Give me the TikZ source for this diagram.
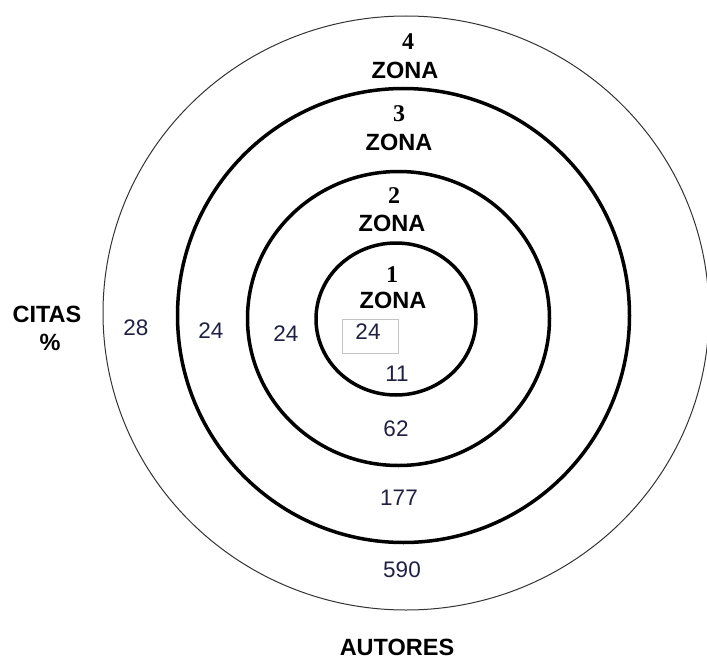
\documentclass[tikz,border=0pt]{standalone}
\usepackage{fontspec}
\setmainfont{Liberation Serif}
\setsansfont{Liberation Sans}
\usetikzlibrary{positioning}
\definecolor{numnavy}{HTML}{202045}
\definecolor{boxgray}{HTML}{C4C4C4}

\begin{document}
\begin{tikzpicture}[
    x=1pt, y=-1pt,
    ring/.style={line width=3.5pt, black},
    outerring/.style={line width=1pt, black!80},
    zonanum/.style={font=\fontsize{24}{24}\selectfont\bfseries, inner sep=0pt},
    zonalbl/.style={font=\fontsize{23.5}{24}\selectfont\sffamily\bfseries, inner sep=0pt},
    val/.style={font=\fontsize{22.5}{23}\selectfont\sffamily, text=numnavy, inner sep=0pt},
    axislbl/.style={font=\fontsize{23.5}{24}\selectfont\sffamily\bfseries, inner sep=0pt},
]
\useasboundingbox (0,0) rectangle (707,661);

% zone rings, outer to inner
\draw[outerring] (406,313) ellipse [x radius=303, y radius=297];
\draw[ring] (403.5,315.5) ellipse [x radius=226, y radius=227];
\draw[ring] (398.5,318.5) ellipse [x radius=151, y radius=147];
\draw[ring] (396,319) ellipse [x radius=80, y radius=76];

% zone titles
\node[zonanum] (num4) at (408,42)  {4};
\node[zonalbl] (zona4) at (405,70) {ZONA};
\node[zonanum] (num3) at (399,114) {3};
\node[zonalbl] (zona3) at (399,142) {ZONA};
\node[zonanum] (num2) at (394,196) {2};
\node[zonalbl] (zona2) at (392,223) {ZONA};
\node[zonanum] (num1) at (392,275) {1};
\node[zonalbl] (zona1) at (393,300) {ZONA};

% citas per zone
\node[draw=boxgray, line width=1pt, minimum width=56pt, minimum height=34pt] (citabox) at (370,336) {};
\node[val] (cita1) at (368,332) {24};
\node[val] (cita2) at (286,334) {24};
\node[val] (cita3) at (211,331) {24};
\node[val] (cita4) at (136,328) {28};

% autores per zone
\node[val] (aut1) at (397,374) {11};
\node[val] (aut2) at (396,429) {62};
\node[val] (aut3) at (399,498) {177};
\node[val] (aut4) at (402,570) {590};

% axis labels
\node[axislbl] (citas) at (47,314) {CITAS};
\node[axislbl] (pct) at (50,342) {\%};
\node[axislbl] (autores) at (397,647) {AUTORES};

\end{tikzpicture}
\end{document}
